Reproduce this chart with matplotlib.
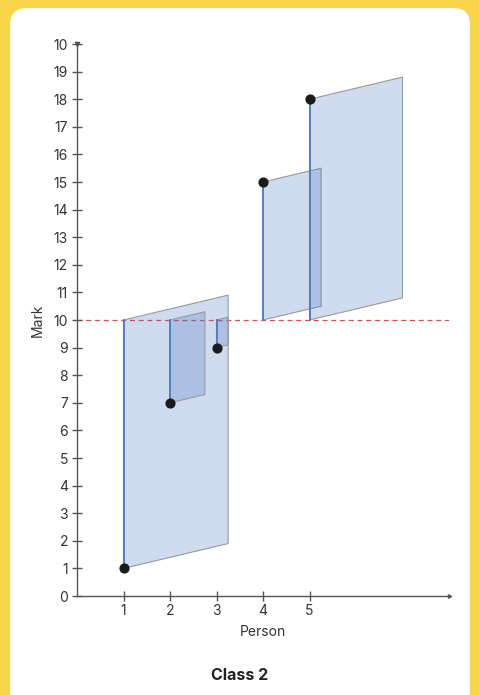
import matplotlib.pyplot as plt
from matplotlib.patches import Polygon, FancyBboxPatch

# data
persons = [1, 2, 3, 4, 5]
marks = [1, 7, 9, 15, 18]
mean_mark = 10
y_ticks = list(range(0, 21))
y_tick_labels = [str(v) for v in range(0, 20)] + ["10"]

plt.rcParams['font.family'] = ['Inter', 'DejaVu Sans']

fig = plt.figure(figsize=(4.79, 6.95), dpi=100)
fig.patch.set_facecolor('#F8D548')

# white rounded panel
panel = FancyBboxPatch((10 / 479, -0.05), 460 / 479, 1.0 - 8 / 695 + 0.05,
                       boxstyle="round,pad=0,rounding_size=0.035",
                       transform=fig.transFigure, facecolor='white',
                       edgecolor='none', zorder=-5, mutation_aspect=479 / 695)
fig.patches.append(panel)

ax = fig.add_axes([77 / 479, 99 / 695, 372 / 479, 552 / 695])
ax.set_zorder(2)
ax.set_facecolor('none')
ax.set_xlim(0, 8)
ax.set_ylim(0, 20)

# squared deviations drawn as skewed squares
for p, m in zip(persons, marks):
    d = abs(m - mean_mark)
    lo = min(m, mean_mark)
    hi = max(m, mean_mark)
    w = 0.25 * d
    rise = 0.1 * d
    poly = Polygon([(p, lo), (p + w, lo + rise), (p + w, hi + rise), (p, hi)],
                   closed=True, facecolor=(0.263, 0.451, 0.749, 0.25),
                   edgecolor='#9a9a9a', linewidth=0.8, zorder=2)
    ax.add_patch(poly)
    ax.plot([p, p], [m, mean_mark], color='#4A7CC0', linewidth=1.3, zorder=3)

ax.scatter(persons, marks, s=40, color='#1a1a1a', zorder=4)
ax.axhline(mean_mark, color='#E24A4A', linestyle=(0, (4, 3)), linewidth=0.9, zorder=1)

# axes styling
for s in ['top', 'right']:
    ax.spines[s].set_visible(False)
for s in ['left', 'bottom']:
    ax.spines[s].set_color('#555555')
    ax.spines[s].set_linewidth(1.0)
ax.plot(1, 0, marker=(3, 0, -90), color='#555555', markersize=3,
        transform=ax.transAxes, clip_on=False)
ax.plot(0, 1, marker='v', color='#555555', markersize=3,
        transform=ax.transAxes, clip_on=False)

ax.set_xticks(persons)
ax.set_yticks(y_ticks)
ax.set_yticklabels(y_tick_labels)
ax.tick_params(direction='inout', length=7, width=1.0, color='#555555',
               labelsize=10, labelcolor='#333333', pad=3)
ax.tick_params(axis='x', pad=2)

ax.set_xlabel("Person", fontsize=10, color='#333333', labelpad=5)
ax.set_ylabel("Mark", fontsize=10, color='#333333', labelpad=6)

fig.text(0.5, 20 / 695, "Class 2", ha='center', va='center',
         fontsize=11.5, fontweight='bold', color='#222222')

fig.savefig('out.png', dpi=100)
